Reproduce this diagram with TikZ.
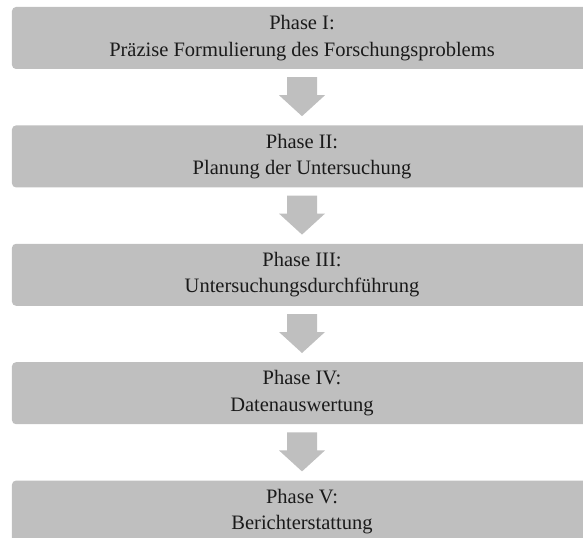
\documentclass[tikz,border=0pt]{standalone}
\usepackage{fontspec}
\setmainfont{Liberation Serif}
\usetikzlibrary{positioning, calc}
\definecolor{boxgray}{HTML}{BFBFBF}
\definecolor{textgray}{HTML}{1A1A1A}

\begin{document}
\begin{tikzpicture}[
  x=1bp, y=1bp,
  phase/.style={rectangle, rounded corners=4bp, fill=boxgray, minimum width=580bp, minimum height=62bp, inner sep=0pt, align=center, text=textgray, font=\fontsize{20.5bp}{26.5bp}\selectfont},
  blockarrow/.style={fill=boxgray}
]
\useasboundingbox (0,0) rectangle (583,-538);
\node[phase] (P1) at (302,-38) {Phase I:\\Präzise Formulierung des Forschungsproblems};
\node[phase, below=56bp of P1] (P2) {Phase II:\\Planung der Untersuchung};
\node[phase, below=56bp of P2] (P3) {Phase III:\\Untersuchungsdurchführung};
\node[phase, below=56bp of P3] (P4) {Phase IV:\\Datenauswertung};
\node[phase, below=56bp of P4] (P5) {Phase V:\\Berichterstattung};

\foreach \from/\to in {P1/P2, P2/P3, P3/P4, P4/P5}
  \fill[blockarrow] ($(\from.south)+(-15,-8)$) -- ($(\from.south)+(15,-8)$) -- ($(\from.south)+(15,-26)$) -- ($(\from.south)+(23,-26)$) -- ($(\to.north)+(0,9)$) -- ($(\from.south)+(-23,-26)$) -- ($(\from.south)+(-15,-26)$) -- cycle;
\end{tikzpicture}
\end{document}
